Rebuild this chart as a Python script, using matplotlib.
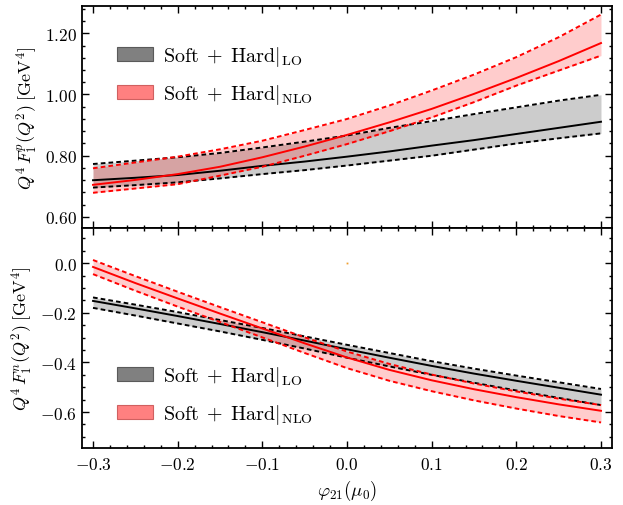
import numpy as np
import matplotlib
matplotlib.use("Agg")
import matplotlib.pyplot as plt
from matplotlib.patches import Patch
from matplotlib.ticker import MultipleLocator, FixedLocator

plt.rcParams['mathtext.fontset'] = 'cm'
plt.rcParams['font.family'] = ['DejaVu Serif']

# ---------------- data ----------------
phi = [-0.30, -0.25, -0.20, -0.15, -0.10, -0.05, 0.00, 0.05, 0.10, 0.15, 0.20, 0.25, 0.30]

# proton (top panel)
p_lo_c = [0.720, 0.728, 0.737, 0.751, 0.767, 0.781, 0.797, 0.814, 0.833, 0.851, 0.871, 0.891, 0.911]
p_lo_u = [0.773, 0.784, 0.795, 0.809, 0.827, 0.846, 0.866, 0.891, 0.913, 0.936, 0.958, 0.980, 0.999]
p_lo_l = [0.696, 0.704, 0.713, 0.726, 0.740, 0.753, 0.768, 0.784, 0.800, 0.820, 0.840, 0.857, 0.873]
p_nlo_c = [0.705, 0.721, 0.740, 0.764, 0.795, 0.830, 0.868, 0.909, 0.953, 1.002, 1.054, 1.109, 1.168]
p_nlo_u = [0.759, 0.778, 0.797, 0.821, 0.849, 0.884, 0.920, 0.964, 1.013, 1.065, 1.122, 1.187, 1.261]
p_nlo_l = [0.679, 0.693, 0.707, 0.735, 0.764, 0.800, 0.838, 0.880, 0.925, 0.975, 1.029, 1.078, 1.127]

# neutron (bottom panel)
n_lo_c = [-0.152, -0.182, -0.213, -0.245, -0.278, -0.312, -0.347, -0.381, -0.414, -0.445, -0.474, -0.502, -0.530]
n_lo_u = [-0.138, -0.167, -0.197, -0.229, -0.261, -0.295, -0.329, -0.362, -0.395, -0.425, -0.453, -0.480, -0.507]
n_lo_l = [-0.180, -0.211, -0.243, -0.275, -0.309, -0.344, -0.381, -0.416, -0.450, -0.482, -0.513, -0.543, -0.572]
n_nlo_c = [-0.015, -0.080, -0.142, -0.203, -0.263, -0.323, -0.380, -0.430, -0.472, -0.508, -0.540, -0.569, -0.595]
n_nlo_u = [0.013, -0.052, -0.115, -0.177, -0.238, -0.299, -0.356, -0.406, -0.449, -0.485, -0.517, -0.546, -0.572]
n_nlo_l = [-0.044, -0.111, -0.175, -0.237, -0.299, -0.362, -0.423, -0.474, -0.516, -0.553, -0.586, -0.616, -0.642]

x_ticks = [-0.3, -0.2, -0.1, 0.0, 0.1, 0.2, 0.3]
x_ticklabels = ['$-0.3$', '$-0.2$', '$-0.1$', '$0.0$', '$0.1$', '$0.2$', '$0.3$']
top_yticks = [0.60, 0.80, 1.00, 1.20]
top_yticklabels = ['$0.60$', '$0.80$', '$1.00$', '$1.20$']
bot_yticks = [-0.6, -0.4, -0.2, 0.0]
bot_yticklabels = ['$-0.6$', '$-0.4$', '$-0.2$', '$0.0$']

legend_labels = [r'$\mathrm{Soft}\;+\;\mathrm{Hard}|_{\mathrm{LO}}$',
                 r'$\mathrm{Soft}\;+\;\mathrm{Hard}|_{\mathrm{NLO}}$']
ylabel_top = r'$Q^4\,F_1^p(Q^2)\;[\mathrm{GeV}^4]$'
ylabel_bot = r'$Q^4\,F_1^n(Q^2)\;[\mathrm{GeV}^4]$'
xlabel = r'$\varphi_{21}(\mu_0)$'

dot_x = [0.0]
dot_y = [0.0]

# ---------------- figure ----------------
fig = plt.figure(figsize=(6.23, 5.06), dpi=100)
ax1 = fig.add_axes([82/623, 1-229/506, 530/623, 222/506])
ax2 = fig.add_axes([82/623, 1-449/506, 530/623, 220/506])

dash = (0, (2.4, 1.6))

def draw(ax, lo_c, lo_u, lo_l, nlo_c, nlo_u, nlo_l):
    ax.fill_between(phi, lo_l, lo_u, color='black', alpha=0.2, lw=0)
    ax.fill_between(phi, nlo_l, nlo_u, color='red', alpha=0.2, lw=0)
    ax.plot(phi, lo_u, color='black', ls=dash, lw=1.4)
    ax.plot(phi, lo_l, color='black', ls=dash, lw=1.4)
    ax.plot(phi, lo_c, color='black', lw=1.4)
    ax.plot(phi, nlo_u, color='red', ls=dash, lw=1.4)
    ax.plot(phi, nlo_l, color='red', ls=dash, lw=1.4)
    ax.plot(phi, nlo_c, color='red', lw=1.4)

draw(ax1, p_lo_c, p_lo_u, p_lo_l, p_nlo_c, p_nlo_u, p_nlo_l)
draw(ax2, n_lo_c, n_lo_u, n_lo_l, n_nlo_c, n_nlo_u, n_nlo_l)
ax2.plot(dot_x, dot_y, ls='none', marker='s', ms=1.3, mec='none', mfc='#f0a030')

for ax in (ax1, ax2):
    ax.set_xlim(-0.313, 0.313)
    ax.xaxis.set_major_locator(FixedLocator(x_ticks))
    ax.xaxis.set_minor_locator(MultipleLocator(0.02))
    ax.tick_params(which='both', direction='in', top=True, right=True, width=1.0)
    ax.tick_params(which='major', length=5)
    ax.tick_params(which='minor', length=2.5)
    for s in ax.spines.values():
        s.set_linewidth(1.3)

ax1.set_ylim(0.564, 1.289)
ax1.set_yticks(top_yticks)
ax1.set_yticklabels(top_yticklabels, fontsize=12.5)
ax1.yaxis.set_minor_locator(MultipleLocator(0.04))
ax1.tick_params(labelbottom=False)

ax2.set_ylim(-0.745, 0.142)
ax2.set_yticks(bot_yticks)
ax2.set_yticklabels(bot_yticklabels, fontsize=12.5)
ax2.yaxis.set_minor_locator(MultipleLocator(0.05))
ax2.set_xticks(x_ticks)
ax2.set_xticklabels(x_ticklabels, fontsize=12.5)
ax2.tick_params(axis='x', pad=6)

ax1.set_ylabel(ylabel_top, fontsize=13)
ax2.set_ylabel(ylabel_bot, fontsize=13)
ax2.set_xlabel(xlabel, fontsize=13.5, labelpad=3)
fig.align_ylabels([ax1, ax2])

handles = [Patch(facecolor='#808080', edgecolor='#5a5a5a', lw=0.8),
           Patch(facecolor='#ff8080', edgecolor='#d06060', lw=0.8)]
leg_kw = dict(frameon=False, fontsize=14.5, handlelength=1.79, handleheight=0.69,
              handletextpad=0.5, labelspacing=0.66, borderpad=0, borderaxespad=0,
              loc='center left')
ax1.legend(handles, legend_labels, bbox_to_anchor=(0.066, 0.689), **leg_kw)
ax2.legend(handles, legend_labels, bbox_to_anchor=(0.066, 0.241), **leg_kw)

fig.savefig('out.png', dpi=100)
